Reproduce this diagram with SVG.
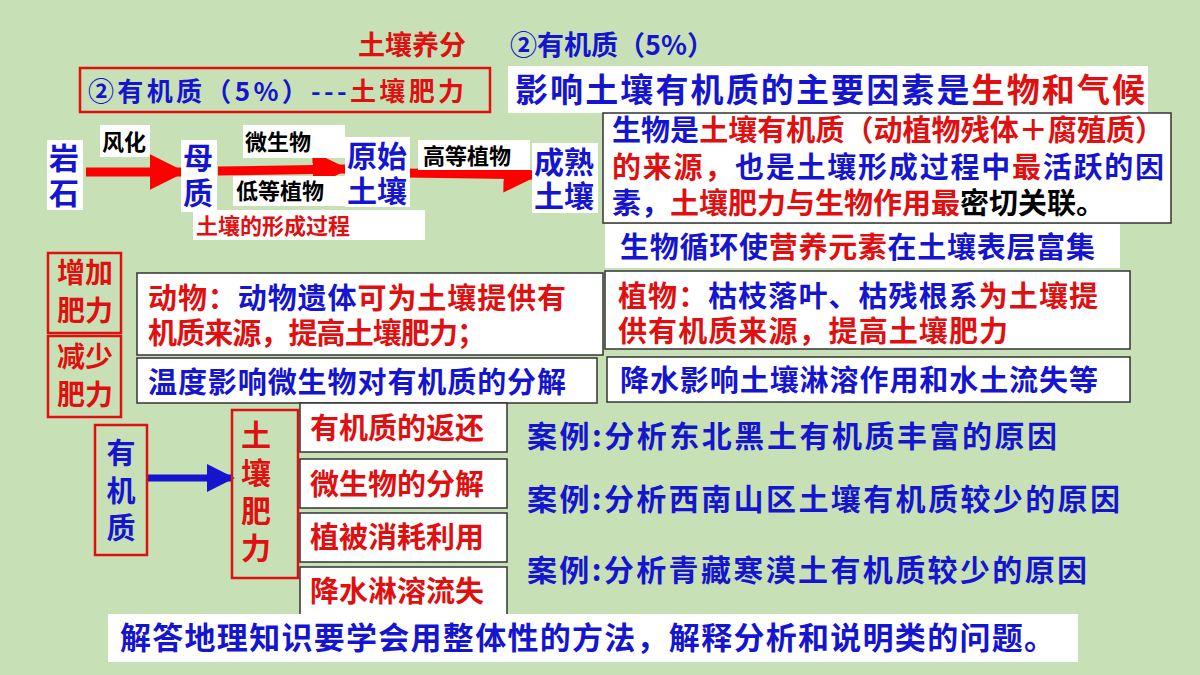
<svg xmlns="http://www.w3.org/2000/svg" width="1200" height="675" viewBox="0 0 1200 675">
<style>
text{font-family:"Noto Sans CJK SC","Liberation Sans",sans-serif;font-weight:bold}
.b{fill:#1515d0}.r{fill:#e01010}.k{fill:#000}
.w{fill:#fff}
.wb{fill:#fff;stroke:#333;stroke-width:1.5}
.rb{fill:none;stroke:#e01010;stroke-width:2.5}
</style>
<defs>
<marker id="ar" viewBox="0 0 10 10" refX="9" refY="5" markerWidth="4" markerHeight="4" orient="auto"><path d="M0,0L10,5L0,10z" fill="#f00"/></marker>
<marker id="ab" viewBox="0 0 10 10" refX="9" refY="5" markerWidth="4" markerHeight="4" orient="auto"><path d="M0,0L10,5L0,10z" fill="#1515d0"/></marker>
</defs>
<rect width="1200" height="675" fill="#c7e0b6"/>
<g id="title">
<text x="358" y="55" font-size="27" class="r">土壤养分</text>
<text x="510" y="55" font-size="27" class="b">②有机质（5%）</text>
</g>
<g id="subtitle"><rect x="80" y="68" width="410" height="44" class="rb" stroke-width="1.5"/>
<text x="88" y="101" font-size="26" textLength="376"><tspan class="b">②有机质（5%）---</tspan><tspan class="r">土壤肥力</tspan></text></g>
<g id="factor"><rect x="508" y="66" width="640" height="47" class="w"/>
<text x="515" y="102" font-size="33" textLength="630"><tspan class="b">影响土壤有机质的主要因素是</tspan><tspan class="r">生物和气候</tspan></text></g>
<g id="connectors">
<line x1="86" y1="172" x2="182" y2="172" stroke="#f00" stroke-width="9" marker-end="url(#ar)"/>
<line x1="218" y1="171" x2="345" y2="169" stroke="#f00" stroke-width="9" marker-end="url(#ar)"/>
<line x1="405" y1="173" x2="536" y2="175" stroke="#f00" stroke-width="9" marker-end="url(#ar)"/>
<line x1="147" y1="478" x2="232" y2="478" stroke="#1515d0" stroke-width="7" marker-end="url(#ab)"/>
</g>
<g id="rock"><rect x="47" y="140" width="36" height="70" class="w"/><text x="49" y="169" font-size="30" class="b">岩</text><text x="49" y="204" font-size="30" class="b">石</text></g>
<g id="weather"><rect x="100" y="125" width="50" height="32" class="w"/><text x="102" y="150" font-size="22" class="k">风化</text></g>
<g id="parent"><rect x="181" y="140" width="36" height="72" class="w"/><text x="183" y="169" font-size="30" class="b">母</text><text x="183" y="204" font-size="30" class="b">质</text></g>
<g id="micro"><rect x="243" y="125" width="102" height="33" class="w"/><text x="245" y="150" font-size="22" class="k">微生物</text></g>
<g id="lowplant"><rect x="233" y="176" width="112" height="30" class="w"/><text x="236" y="199" font-size="22" class="k">低等植物</text></g>
<g id="primitive"><rect x="345" y="137" width="65" height="70" class="w"/><text x="347" y="167" font-size="30" class="b">原始</text><text x="347" y="202" font-size="30" class="b">土壤</text></g>
<g id="highplant"><rect x="418" y="140" width="112" height="30" class="w"/><text x="423" y="164" font-size="22" class="k">高等植物</text></g>
<g id="mature"><rect x="532" y="143" width="66" height="70" class="w"/><text x="534" y="173" font-size="30" class="b">成熟</text><text x="534" y="207" font-size="30" class="b">土壤</text></g>
<g id="process"><rect x="193" y="210" width="232" height="30" class="w"/><text x="196" y="234" font-size="22" class="r">土壤的形成过程</text></g>
<g id="bio"><rect x="603" y="113" width="568" height="110" class="wb"/>
<text x="612" y="141" font-size="29" textLength="552"><tspan class="b">生物是</tspan><tspan class="r">土壤有机质（动植物残体＋腐殖质）</tspan></text>
<text x="612" y="178" font-size="29" textLength="552"><tspan class="r">的来源，</tspan><tspan class="b">也是土壤形成过程中</tspan><tspan class="r">最</tspan><tspan class="b">活跃的因</tspan></text>
<text x="612" y="214" font-size="29"><tspan class="b">素，</tspan><tspan class="r">土壤肥力与生物作用最</tspan><tspan class="k">密切关联。</tspan></text></g>
<g id="cycle"><rect x="605" y="224" width="515" height="44" class="w"/>
<text x="620" y="258" font-size="29" textLength="475"><tspan class="b">生物循环使</tspan><tspan class="r">营养元素</tspan><tspan class="b">在土壤表层富集</tspan></text></g>
<g id="inc"><rect x="48" y="253" width="73" height="80" class="rb"/><text x="57" y="283" font-size="28" class="r">增加</text><text x="57" y="321" font-size="28" class="r">肥力</text></g>
<g id="dec"><rect x="48" y="336" width="73" height="81" class="rb"/><text x="57" y="367" font-size="28" class="r">减少</text><text x="57" y="405" font-size="28" class="r">肥力</text></g>
<g id="animal"><rect x="137" y="273" width="466" height="82" class="wb"/>
<text x="148" y="309" font-size="29" textLength="418"><tspan class="r">动物：</tspan><tspan class="b">动物遗体</tspan><tspan class="r">可为土壤提供有</tspan></text>
<text x="148" y="344" font-size="29" textLength="338" class="r">机质来源，提高土壤肥力；</text></g>
<g id="plant"><rect x="605" y="271" width="525" height="78" class="wb"/>
<text x="618" y="307" font-size="29" textLength="480"><tspan class="r">植物：</tspan><tspan class="b">枯枝落叶、枯残根系</tspan><tspan class="r">为土壤提</tspan></text>
<text x="618" y="342" font-size="29" textLength="390" class="r">供有机质来源，提高土壤肥力</text></g>
<g id="temp"><rect x="137" y="358" width="460" height="45" class="wb"/><text x="148" y="393" font-size="29" class="b" textLength="418">温度影响微生物对有机质的分解</text></g>
<g id="rain"><rect x="607" y="357" width="523" height="45" class="wb"/><text x="620" y="391" font-size="29" class="b" textLength="478">降水影响土壤淋溶作用和水土流失等</text></g>
<g id="om"><rect x="95" y="425" width="52" height="130" class="rb"/>
<text x="121" y="464" font-size="29" class="b" text-anchor="middle">有</text><text x="121" y="502" font-size="29" class="b" text-anchor="middle">机</text><text x="121" y="539" font-size="29" class="b" text-anchor="middle">质</text></g>
<g id="fert"><rect x="232" y="410" width="66" height="168" class="rb"/>
<text x="256" y="446" font-size="30" class="r" text-anchor="middle">土</text><text x="256" y="484" font-size="30" class="r" text-anchor="middle">壤</text><text x="256" y="522" font-size="30" class="r" text-anchor="middle">肥</text><text x="256" y="559" font-size="30" class="r" text-anchor="middle">力</text></g>
<g id="f1"><rect x="300" y="403" width="207" height="49" class="wb"/><text x="310" y="439" font-size="29" class="r">有机质的返还</text></g>
<g id="f2"><rect x="300" y="459" width="207" height="49" class="wb"/><text x="310" y="495" font-size="29" class="r">微生物的分解</text></g>
<g id="f3"><rect x="300" y="513" width="207" height="49" class="wb"/><text x="310" y="548" font-size="29" class="r">植被消耗利用</text></g>
<g id="f4"><rect x="300" y="567" width="207" height="48" class="wb"/><text x="310" y="602" font-size="29" class="r">降水淋溶流失</text></g>
<g id="cases">
<text x="527" y="447" font-size="30" class="b" textLength="530">案例:分析东北黑土有机质丰富的原因</text>
<text x="527" y="510" font-size="30" class="b" textLength="593">案例:分析西南山区土壤有机质较少的原因</text>
<text x="527" y="581" font-size="30" class="b" textLength="560">案例:分析青藏寒漠土有机质较少的原因</text>
</g>
<g id="summary"><rect x="108" y="614" width="970" height="48" class="w"/>
<text x="120" y="649" font-size="31" class="b" textLength="935">解答地理知识要学会用整体性的方法，解释分析和说明类的问题。</text></g>
</svg>
